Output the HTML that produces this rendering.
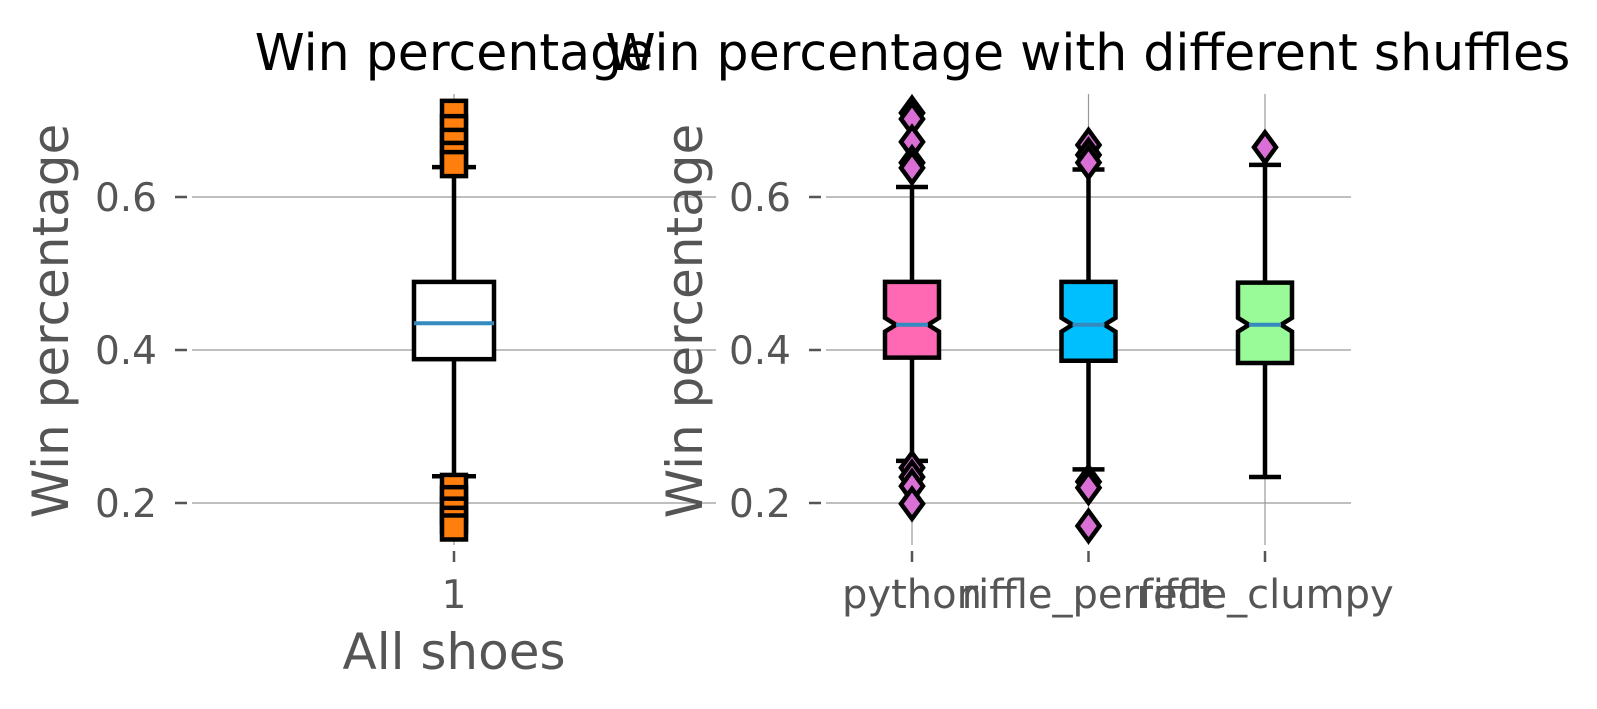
<!DOCTYPE html>
<html><head><meta charset="utf-8"><style>
html,body{margin:0;padding:0;background:#fff;}
svg{display:block;font-family:"DejaVu Sans","Liberation Sans",sans-serif;}
</style></head><body>
<svg id="chart" width="1597" height="709" viewBox="0 0 1597 709" xmlns="http://www.w3.org/2000/svg">
<g id="left"></g>
<g id="right"></g>
<text x="454" y="70" font-size="50.5" text-anchor="middle" fill="#000">Win percentage</text>
<text x="1088" y="70" font-size="50.5" text-anchor="middle" fill="#000">Win percentage with different shuffles</text>
<text transform="translate(68,321) rotate(-90)" font-size="50" text-anchor="middle" fill="#555">Win percentage</text>
<text transform="translate(702,321) rotate(-90)" font-size="50" text-anchor="middle" fill="#555">Win percentage</text>
<text x="454" y="669" font-size="50" text-anchor="middle" fill="#555">All shoes</text>
</svg>
<script>
const yTicks = [0.2, 0.4, 0.6];
const leftCats = ["1"];
const leftQ1 = [0.388];
const leftMed = [0.435];
const leftQ3 = [0.489];
const leftLo = [0.235];
const leftHi = [0.639];
const leftFliers = [[0.71, 0.69, 0.672, 0.655, 0.643, 0.221, 0.205, 0.19, 0.178, 0.168]];
const rightCats = ["python", "riffle_perfect", "riffle_clumpy"];
const rightQ1 = [0.39, 0.386, 0.383];
const rightMed = [0.433, 0.433, 0.433];
const rightQ3 = [0.489, 0.489, 0.488];
const rightLo = [0.255, 0.244, 0.234];
const rightHi = [0.613, 0.636, 0.642];
const rightFliers = [[0.71, 0.702, 0.672, 0.645, 0.638, 0.246, 0.234, 0.222, 0.199], [0.668, 0.655, 0.645, 0.228, 0.22, 0.17], [0.665]];
const rightColors = ["#ff69b4", "#00bfff", "#98fb98"];

const NS = "http://www.w3.org/2000/svg";
function y(v){ return 350 - (v - 0.4) * 765; }
function mk(parent, tag, attrs){ const e = document.createElementNS(NS, tag); for (const k in attrs) e.setAttribute(k, attrs[k]); parent.appendChild(e); return e; }

function panel(g, x0, x1, xpos, cats, q1, med, q3, lo, hi, fliers, colors, notch, marker, tickSize){
  yTicks.forEach(t => {
    const l = mk(g, "line", {x1:x0, x2:x1, y1:y(t), y2:y(t), stroke:"#999", "stroke-width":1.2});
    
    
    const tk = mk(g, "line", {x1:x0-17, x2:x0-5, y1:y(t), y2:y(t), stroke:"#555", "stroke-width":2.5});
    
    
    const tx = mk(g, "text", {x:x0-35, y:y(t)+14, "font-size":39, fill:"#555", "text-anchor":"end"});
    tx.textContent = t.toFixed(1);
    
    
  });
  cats.forEach((c, i) => {
    const cx = xpos(i);
    const vl = mk(g, "line", {x1:cx, x2:cx, y1:94, y2:545, stroke:"#999", "stroke-width":1.2});
    
    
    const tk = mk(g, "line", {x1:cx, x2:cx, y1:551, y2:562, stroke:"#555", "stroke-width":2.5});
    
    
    const tx = mk(g, "text", {x:cx, y:608, "font-size":tickSize, fill:"#555", "text-anchor":"middle"});
    tx.textContent = c;
    
    
    const hw = notch ? 27 : 40;
    const cap = notch ? 16 : 22;
    const bg = mk(g, "g", {});
    
    
    mk(bg, "line", {x1:cx, x2:cx, y1:y(q3[i]), y2:y(hi[i]), stroke:"#000", "stroke-width":4.5});
    mk(bg, "line", {x1:cx, x2:cx, y1:y(q1[i]), y2:y(lo[i]), stroke:"#000", "stroke-width":4.5});
    mk(bg, "line", {x1:cx-cap, x2:cx+cap, y1:y(hi[i]), y2:y(hi[i]), stroke:"#000", "stroke-width":4.5});
    mk(bg, "line", {x1:cx-cap, x2:cx+cap, y1:y(lo[i]), y2:y(lo[i]), stroke:"#000", "stroke-width":4.5});
    if (notch) {
      const m = y(med[i]), n = 0.009, ind = 11;
      const pts = [[cx-hw,y(q3[i])],[cx+hw,y(q3[i])],[cx+hw,y(med[i]+n)],[cx+hw-ind,m],[cx+hw,y(med[i]-n)],[cx+hw,y(q1[i])],[cx-hw,y(q1[i])],[cx-hw,y(med[i]-n)],[cx-hw+ind,m],[cx-hw,y(med[i]+n)]];
      mk(bg, "polygon", {points:pts.map(p=>p.join(",")).join(" "), fill:colors[i], stroke:"#000", "stroke-width":4.5});
      mk(bg, "line", {x1:cx-hw+ind, x2:cx+hw-ind, y1:m, y2:m, stroke:"#348abd", "stroke-width":4});
    } else {
      mk(bg, "rect", {x:cx-hw, y:y(q3[i]), width:2*hw, height:y(q1[i])-y(q3[i]), fill:"#fff", stroke:"#000", "stroke-width":4.5});
      mk(bg, "line", {x1:cx-hw, x2:cx+hw, y1:y(med[i]), y2:y(med[i]), stroke:"#348abd", "stroke-width":4});
    }
    fliers[i].forEach(v => {
      const fy = y(v);
      let f;
      if (marker === "square") f = mk(g, "rect", {x:cx-12, y:fy-12, width:24, height:24, fill:"#ff7f0e", stroke:"#000", "stroke-width":4.5});
      else f = mk(g, "polygon", {points:`${cx},${fy-15} ${cx+11},${fy} ${cx},${fy+15} ${cx-11},${fy}`, fill:"#da70d6", stroke:"#000", "stroke-width":4.5});
      
      
    });
  });
}
panel(document.getElementById("left"), 192, 716, i => 454 + i*176.5, leftCats, leftQ1, leftMed, leftQ3, leftLo, leftHi, leftFliers, ["#fff"], false, "square", 39);
panel(document.getElementById("right"), 826, 1351, i => 912 + i*176.5, rightCats, rightQ1, rightMed, rightQ3, rightLo, rightHi, rightFliers, rightColors, true, "diamond", 40);
</script>
</body></html>
